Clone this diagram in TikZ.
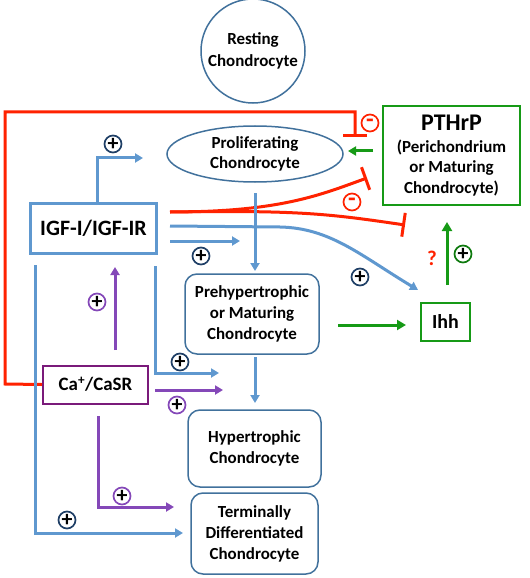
\documentclass[tikz,border=0pt]{standalone}
\usepackage{fontspec}
\setmainfont{Carlito}
\usetikzlibrary{arrows.meta,shapes.geometric,calc}
\definecolor{lblue}{HTML}{5F98CF}
\definecolor{dblue}{HTML}{41719C}
\definecolor{pblue}{HTML}{1F3F66}
\definecolor{myred}{HTML}{FF2200}
\definecolor{mygreen}{HTML}{169A16}
\definecolor{dgreen}{HTML}{0E7A0E}
\definecolor{mypurple}{HTML}{8448B8}
\definecolor{capurple}{HTML}{7A1A7A}
\tikzset{
  cellfont/.style={font=\bfseries\fontsize{17}{21}\selectfont},
  cell/.style={draw=dblue,line width=1.5bp,rounded corners=12bp,align=center,cellfont,text=black},
  bluearr/.style={draw=lblue,line width=3bp,-{Triangle[length=8bp,width=9bp]}},
  greenarr/.style={draw=mygreen,line width=3bp,-{Triangle[length=9bp,width=10bp]}},
  purparr/.style={draw=mypurple,line width=3bp,-{Triangle[length=8bp,width=9bp]}},
  redinh/.style={draw=myred,line width=3bp,-{Bar[width=24bp,line width=3bp]}},
  sign/.style={circle,draw,line width=1.7bp,inner sep=0pt,minimum size=17bp,font=\bfseries\fontsize{22}{22}\selectfont},
  plusb/.style={sign,draw=pblue,text=black},
  plusp/.style={sign,draw=mypurple,text=black},
  plusg/.style={sign,draw=dgreen,text=black},
  minusr/.style={sign,draw=myred,text=myred,font=\bfseries\fontsize{25}{25}\selectfont},
}
\begin{document}
\begin{tikzpicture}[x=1bp,y=-1bp]
\useasboundingbox (0,0) rectangle (530,578);
% nodes
\node[circle,draw=dblue,line width=1.5bp,minimum size=104bp,inner sep=0pt,align=center,font=\bfseries\fontsize{17}{22}\selectfont] (rest) at (253,51) {Resting\\Chondrocyte};
\node[ellipse,draw=dblue,line width=1.5bp,minimum width=176bp,minimum height=56bp,inner sep=0pt,align=center,font=\bfseries\fontsize{17}{20}\selectfont] (prol) at (255,154) {Proliferating\\Chondrocyte};
\node[draw=mygreen,line width=2bp,minimum width=137bp,minimum height=99bp,inner sep=0pt,align=center,font=\bfseries\fontsize{17}{20.5}\selectfont] (pthrp) at (451.5,155.5) {{\fontsize{24}{24}\selectfont PTHrP}\\[1bp](Perichondrium\\or Maturing\\Chondrocyte)};
\node[draw=lblue,line width=3bp,minimum width=126bp,minimum height=50bp,font=\bfseries\fontsize{22}{24}\selectfont] (igf) at (93.5,228.5) {IGF-I/IGF-IR};
\node[cell,minimum width=134bp,minimum height=80bp,inner sep=0pt] (pre) at (252,314) {Prehypertrophic\\or Maturing\\Chondrocyte};
\node[draw=mygreen,line width=2bp,minimum width=49bp,minimum height=38bp,inner sep=0pt,font=\bfseries\fontsize{20}{22}\selectfont] (ihh) at (445.5,322) {Ihh};
\node[draw=capurple,line width=2bp,minimum width=105bp,minimum height=38bp,inner sep=0pt,font=\bfseries\fontsize{19}{22}\selectfont] (ca) at (95.5,384.5) {Ca\textsuperscript{+}/CaSR};
\node[cell,minimum width=133bp,minimum height=77bp,inner sep=0pt] (hyp) at (254.5,448.5) {Hypertrophic\\Chondrocyte};
\node[cell,minimum width=127bp,minimum height=81bp,inner sep=0pt] (term) at (254.5,533.5) {Terminally\\Differentiated\\Chondrocyte};
% coordinates
\coordinate (r1) at (5,384);
\coordinate (r2) at (5,112);
\coordinate (r3) at (355,112);
\coordinate (r4) at (355,137);
\coordinate (igfR) at (170,212);
\coordinate (inh1) at (367,178);
\coordinate (inh2) at (405,225);
\coordinate (igfB) at (170,226);
\coordinate (igfC) at (170,241);
\coordinate (igfCe) at (240,241);
\coordinate (ihhIn) at (418,290);
\coordinate (up1) at (97,205);
\coordinate (up2) at (97,158);
\coordinate (up3) at (143,158);
\coordinate (l1) at (35,265);
\coordinate (l2) at (35,533);
\coordinate (l3) at (183,533);
\coordinate (m1) at (155,266);
\coordinate (m2) at (155,373);
\coordinate (m3) at (219,373);
\coordinate (p1) at (155,390);
\coordinate (p2) at (223,390);
\coordinate (q1) at (98,416);
\coordinate (q2) at (98,507);
\coordinate (q3) at (174,507);
\coordinate (caup1) at (115,350);
\coordinate (caup2) at (115,267);
\coordinate (prolB) at (255,193);
\coordinate (preT) at (255,271);
\coordinate (preB) at (255,357);
\coordinate (hypT) at (255,403);
\coordinate (gre1) at (338,325);
\coordinate (gre2) at (406,325);
\coordinate (ihhU1) at (447,285);
\coordinate (ihhU2) at (447,222);
\coordinate (pg1) at (373,151);
\coordinate (pg2) at (348,151);
% red inhibition loop
\draw[redinh] (ca.west) -- (r1) -- (r2) -- (r3) -- (r4);
\draw[redinh] (igfR) .. controls (280,212) and (320,195) .. (inh1);
\draw[redinh] (igfR) .. controls (300,210) and (330,214) .. (inh2);
% blue
\draw[bluearr] (up1) -- (up2) -- (up3);
\draw[bluearr] (igfB) -- (280,227) .. controls (330,228) and (360,255) .. (ihhIn);
\draw[bluearr] (igfC) -- (igfCe);
\draw[bluearr] (prolB) -- (preT);
\draw[bluearr] (preB) -- (hypT);
\draw[bluearr] (l1) -- (l2) -- (l3);
\draw[bluearr] (m1) -- (m2) -- (m3);
% purple
\draw[purparr] (caup1) -- (caup2);
\draw[purparr] (p1) -- (p2);
\draw[purparr] (q1) -- (q2) -- (q3);
% green
\draw[greenarr] (gre1) -- (gre2);
\draw[greenarr] (ihhU1) -- (ihhU2);
\draw[draw=mygreen,line width=3bp,-{Triangle[length=8bp,width=9bp]}] (pg1) -- (pg2);
% signs
\node[plusb] (s1) at (113,144) {+};
\node[minusr] (s2) at (370,123) {-};
\node[minusr] (s3) at (352,202) {-};
\node[plusb] (s4) at (201,256) {+};
\node[plusb] (s5) at (360,277) {+};
\node[plusg] (s6) at (463,254) {+};
\node[font=\bfseries\fontsize{21}{21}\selectfont,text=myred] (q) at (432,258) {?};
\node[plusp] (s7) at (97,302) {+};
\node[plusb] (s8) at (180,362) {+};
\node[plusp] (s9) at (177,405) {+};
\node[plusp] (s10) at (122,496) {+};
\node[plusb] (s11) at (67,520) {+};
\end{tikzpicture}
\end{document}
